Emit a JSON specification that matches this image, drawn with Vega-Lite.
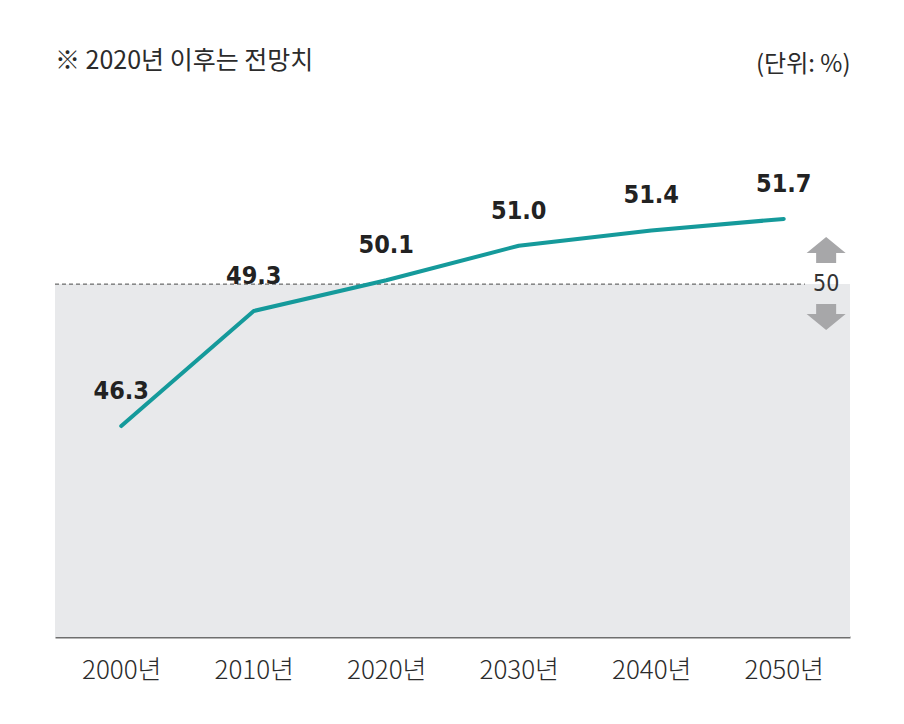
{
  "$schema": "https://vega.github.io/schema/vega-lite/v6.json",
  "width": 795,
  "height": 537,
  "autosize": {"type": "none"},
  "padding": {"left": 55, "top": 100, "right": 54, "bottom": 87},
  "background": "white",
  "config": {"view": {"stroke": null}, "font": "Noto Sans CJK KR"},
  "title": {
    "text": "※ 2020년 이후는 전망치",
    "anchor": "start",
    "frame": "group",
    "font": "Noto Sans CJK KR",
    "fontSize": 25,
    "fontWeight": "normal",
    "color": "#2b2b2b",
    "offset": 22,
    "dx": 0,
    "dy": 44
  },
  "datasets": {
    "series": [
      {"year": 2000, "value": 46.3, "label": "46.3"},
      {"year": 2010, "value": 49.3, "label": "49.3"},
      {"year": 2020, "value": 50.1, "label": "50.1"},
      {"year": 2030, "value": 51.0, "label": "51.0"},
      {"year": 2040, "value": 51.4, "label": "51.4"},
      {"year": 2050, "value": 51.7, "label": "51.7"}
    ],
    "band": [{"x": 1995, "x2": 2055, "y": 40.8, "y2": 50}],
    "ref": [{"x": 1995, "x2": 2051.6, "y": 50, "t": "50", "ax": 2053.2}]
  },
  "resolve": {"scale": {"x": "shared", "y": "shared"}},
  "layer": [
    {
      "data": {"name": "band"},
      "mark": {"type": "rect", "color": "#e8e9eb"},
      "encoding": {
        "x": {
          "field": "x",
          "type": "quantitative",
          "scale": {"domain": [1995, 2055], "nice": false, "zero": false},
          "axis": {
            "values": [2000, 2010, 2020, 2030, 2040, 2050],
            "labelExpr": "datum.value + '년'",
            "title": null,
            "grid": false,
            "ticks": false,
            "domainColor": "#6e6e6e",
            "domainWidth": 2,
            "labelFont": "Noto Sans CJK KR",
            "labelFontSize": 26,
            "labelFontWeight": 300,
            "labelColor": "#2b2b2b",
            "labelPadding": 20
          }
        },
        "x2": {"field": "x2"},
        "y": {
          "field": "y",
          "type": "quantitative",
          "scale": {"domain": [40.8, 54.8], "nice": false, "zero": false},
          "axis": {
            "orient": "right",
            "labels": false,
            "ticks": false,
            "domain": false,
            "grid": false,
            "title": "(단위: %)",
            "titleAngle": 0,
            "titleX": 0,
            "titleY": -36,
            "titleAlign": "right",
            "titleBaseline": "middle",
            "titleFont": "Noto Sans CJK KR",
            "titleFontSize": 24,
            "titleFontWeight": "normal",
            "titleColor": "#2b2b2b"
          }
        },
        "y2": {"field": "y2"}
      }
    },
    {
      "data": {"name": "ref"},
      "mark": {"type": "rule", "color": "#4a4a4a", "strokeWidth": 1, "strokeDash": [4, 3]},
      "encoding": {
        "x": {"field": "x", "type": "quantitative"},
        "x2": {"field": "x2"},
        "y": {"field": "y", "type": "quantitative"}
      }
    },
    {
      "data": {"name": "series"},
      "mark": {"type": "line", "color": "#159a9b", "strokeWidth": 4, "strokeCap": "round", "strokeJoin": "round"},
      "encoding": {
        "x": {"field": "year", "type": "quantitative"},
        "y": {"field": "value", "type": "quantitative"}
      }
    },
    {
      "data": {"name": "series"},
      "mark": {
        "type": "text",
        "font": "DejaVu Sans Condensed",
        "fontWeight": "bold",
        "fontSize": 25,
        "color": "#222222",
        "dy": -35,
        "baseline": "middle"
      },
      "encoding": {
        "x": {"field": "year", "type": "quantitative"},
        "y": {"field": "value", "type": "quantitative"},
        "text": {"field": "label"}
      }
    },
    {
      "data": {"name": "ref"},
      "mark": {
        "type": "point",
        "filled": true,
        "color": "#a7a7a9",
        "opacity": 1,
        "size": 1521,
        "yOffset": -34,
        "shape": "M0,-0.667L1,0.154L0.513,0.154L0.513,0.667L-0.513,0.667L-0.513,0.154L-1,0.154Z"
      },
      "encoding": {
        "x": {"field": "ax", "type": "quantitative"},
        "y": {"field": "y", "type": "quantitative"}
      }
    },
    {
      "data": {"name": "ref"},
      "mark": {
        "type": "point",
        "filled": true,
        "color": "#a7a7a9",
        "opacity": 1,
        "size": 1521,
        "yOffset": 33,
        "shape": "M0,0.667L1,-0.154L0.513,-0.154L0.513,-0.667L-0.513,-0.667L-0.513,-0.154L-1,-0.154Z"
      },
      "encoding": {
        "x": {"field": "ax", "type": "quantitative"},
        "y": {"field": "y", "type": "quantitative"}
      }
    },
    {
      "data": {"name": "ref"},
      "mark": {
        "type": "text",
        "font": "DejaVu Sans Condensed",
        "fontSize": 23,
        "color": "#333333",
        "baseline": "middle",
        "align": "center"
      },
      "encoding": {
        "x": {"field": "ax", "type": "quantitative"},
        "y": {"field": "y", "type": "quantitative"},
        "text": {"field": "t"}
      }
    }
  ]
}
